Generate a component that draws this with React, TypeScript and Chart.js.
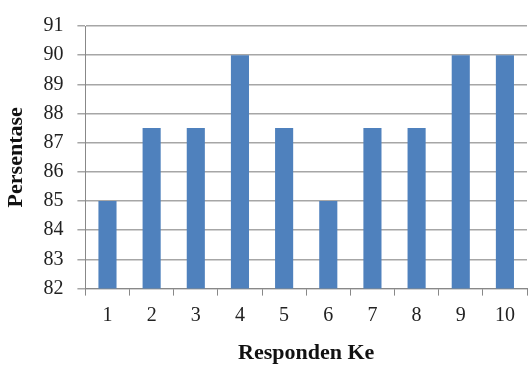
import React, { useEffect, useRef } from "react";
import { Chart, registerables } from "chart.js";

Chart.register(...registerables);

const categories = ["1", "2", "3", "4", "5", "6", "7", "8", "9", "10"];
const persentase = [85, 87.5, 87.5, 90, 87.5, 85, 87.5, 87.5, 90, 90];
const yMin = 82;
const yMax = 91;

const FONT = "'Liberation Serif', 'DejaVu Serif', serif";

export default function App() {
  const canvasRef = useRef<HTMLCanvasElement | null>(null);

  useEffect(() => {
    document.body.style.margin = "0";
    const ctx = canvasRef.current;
    if (!ctx) return;
    const chart = new Chart(ctx, {
      type: "bar",
      data: {
        labels: categories,
        datasets: [
          {
            label: "Persentase",
            data: persentase,
            backgroundColor: "#4f81bd",
            borderWidth: 0,
            barPercentage: 0.41,
            categoryPercentage: 1,
          },
        ],
      },
      options: {
        animation: false,
        responsive: false,
        maintainAspectRatio: false,
        layout: { padding: { top: 24, right: 2, bottom: 0, left: 3 } },
        plugins: {
          legend: { display: false },
          tooltip: { enabled: false },
        },
        scales: {
          x: {
            offset: true,
            grid: {
              offset: true,
              drawOnChartArea: false,
              drawTicks: true,
              tickLength: 7,
              color: "#888888",
              lineWidth: 1,
            },
            border: { color: "#888888", width: 1 },
            ticks: {
              color: "#222222",
              font: { family: FONT, size: 20 },
              padding: 8,
            },
            title: {
              display: true,
              text: "Responden Ke",
              color: "#111111",
              font: { family: FONT, size: 22, weight: "bold" },
              padding: { top: 5, bottom: 0 },
            },
          },
          y: {
            min: yMin,
            max: yMax,
            grid: {
              color: "#a6a6a6",
              lineWidth: 1.5,
              drawTicks: true,
              tickLength: 8,
            },
            border: { color: "#888888", width: 1 },
            ticks: {
              stepSize: 1,
              color: "#222222",
              font: { family: FONT, size: 20 },
              padding: 14,
            },
            title: {
              display: true,
              text: "Persentase",
              color: "#111111",
              font: { family: FONT, size: 22, weight: "bold" },
              padding: { top: 0, bottom: 0 },
            },
          },
        },
      },
    });
    return () => chart.destroy();
  }, []);

  return (
    <div style={{ position: "absolute", left: 0, top: 0, width: 529, height: 367, background: "#fff" }}>
      <canvas ref={canvasRef} width={529} height={367} style={{ width: 529, height: 367 }} />
    </div>
  );
}
